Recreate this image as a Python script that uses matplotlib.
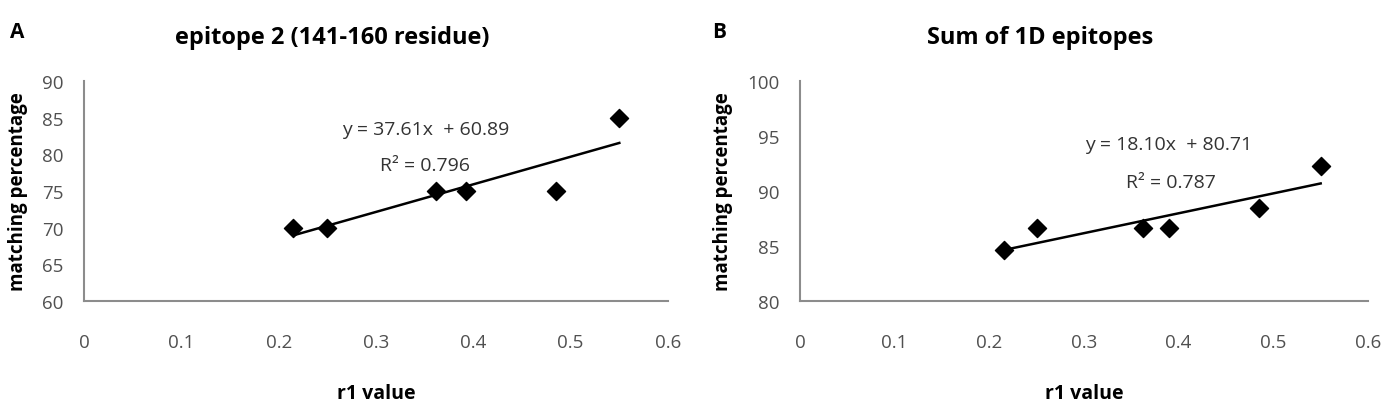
import numpy as np
import matplotlib.pyplot as plt

plt.rcParams['font.family'] = ['Open Sans', 'DejaVu Sans']

# panel A: epitope 2 (141-160 residue)
r1_a = [0.215, 0.250, 0.362, 0.392, 0.485, 0.550]
match_a = [70, 70, 75, 75, 75, 85]
eq_a = 'y = 37.61x  + 60.89'
r2_a = 'R² = 0.796'

# panel B: sum of 1D epitopes
r1_b = [0.215, 0.250, 0.362, 0.390, 0.485, 0.550]
match_b = [84.6, 86.6, 86.6, 86.6, 88.5, 92.3]
eq_b = 'y = 18.10x  + 80.71'
r2_b = 'R² = 0.787'

xticks = [0, 0.1, 0.2, 0.3, 0.4, 0.5, 0.6]
xticklabels = ['0', '0.1', '0.2', '0.3', '0.4', '0.5', '0.6']

fig = plt.figure(figsize=(13.87, 4.06), dpi=100)
ax_a = fig.add_axes([0.0606, 0.256, 0.421, 0.542])
ax_b = fig.add_axes([0.5768, 0.256, 0.4095, 0.542])

grey = '#505050'
spine_col = '#8c8c8c'


def draw(ax, x, y, ylim, eq, r2, eq_pos, r2_pos):
    ax.scatter(x, y, marker='D', s=85, color='black', zorder=3)
    k, b = np.polyfit(x, y, 1)
    xs = np.array([min(x), max(x)])
    ax.plot(xs, k * xs + b, color='black', lw=1.8, zorder=2)
    ax.set_xlim(0, 0.6)
    ax.set_ylim(*ylim)
    ax.set_xticks(xticks)
    ax.set_xticklabels(xticklabels)
    ax.set_yticks(np.arange(ylim[0], ylim[1] + 1, 5))
    for s in ['top', 'right']:
        ax.spines[s].set_visible(False)
    for s in ['left', 'bottom']:
        ax.spines[s].set_color(spine_col)
        ax.spines[s].set_linewidth(1.5)
    ax.tick_params(axis='x', length=0, pad=23, labelsize=13.5, labelcolor=grey)
    ax.tick_params(axis='y', length=0, pad=15, labelsize=13.5, labelcolor=grey)
    ax.text(eq_pos[0], eq_pos[1], eq, ha='center', va='center', fontsize=14, color='#333333')
    ax.text(r2_pos[0], r2_pos[1], r2, ha='center', va='center', fontsize=14, color='#333333')
    ax.set_xlabel('r1 value', fontsize=14, fontweight='bold', labelpad=23)
    ax.set_ylabel('matching percentage', fontsize=13.5, fontweight='bold', labelpad=10)


draw(ax_a, r1_a, match_a, (60, 90), eq_a, r2_a, (0.351, 83.45), (0.35, 78.5))
draw(ax_b, r1_b, match_b, (80, 100), eq_b, r2_b, (0.389, 94.3), (0.392, 90.8))

fig.text(10 / 1387, 1 - 33 / 406, 'A', fontsize=15, fontweight='bold', va='center', ha='left')
fig.text(712 / 1387, 1 - 33 / 406, 'B', fontsize=15, fontweight='bold', va='center', ha='left')
fig.text(332 / 1387, 1 - 38 / 406, 'epitope 2 (141-160 residue)', fontsize=17, fontweight='bold',
         ha='center', va='center')
fig.text(1040 / 1387, 1 - 38 / 406, 'Sum of 1D epitopes', fontsize=17, fontweight='bold',
         ha='center', va='center')

fig.savefig('out.png', dpi=100)
